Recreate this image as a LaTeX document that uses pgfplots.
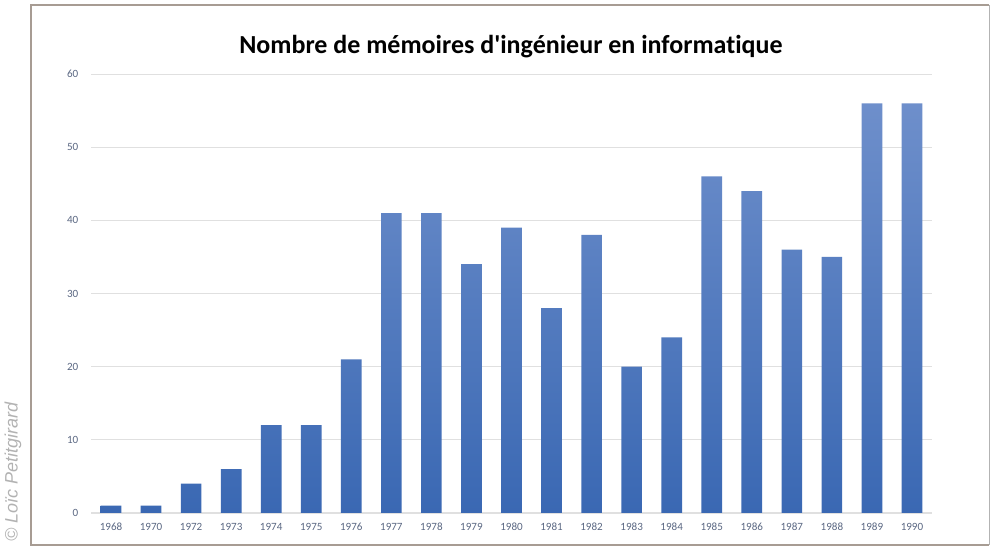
\documentclass[border=0pt]{standalone}
\usepackage{pgfplots}
\pgfplotsset{compat=1.18}
\usepackage{fontspec}
\setmainfont{Carlito}[Ligatures={TeXOff,NoCommon}]
\newfontfamily\credfont{Liberation Sans}
\definecolor{framec}{HTML}{A79C93}
\definecolor{tickc}{HTML}{5A6782}
\definecolor{gridc}{HTML}{E0E0E0}
\definecolor{bartop}{HTML}{6E8FCB}
\definecolor{barbot}{HTML}{3A68B3}
\begin{document}
\begin{tikzpicture}[x=0.75pt,y=0.75pt]
\useasboundingbox (0,0) rectangle (990,548);
% frame
\draw[framec,line width=2.2pt] (989,3) -- (31,3) -- (31,543) -- (989,543);
\draw[gridc!80!black,line width=0.6pt] (989,3) -- (989,543);
% credit
\node[rotate=90,text=gray!60,font=\credfont\itshape\fontsize{13.5}{15}\selectfont] at (13,76) {\textcopyright\ Loïc Petitgirard};
% title
\node[font=\bfseries\fontsize{19.5}{22}\selectfont] at (511,501) {Nombre de mémoires d'ingénieur en informatique};
\begin{axis}[
  at={(68.25pt,26.25pt)}, anchor=south west,
  scale only axis, width=630.75pt, height=329.25pt,
  xmin=-0.5, xmax=20.5, ymin=0, ymax=60,
  ytick={0,10,...,60},
  xtick={0,...,20},
  xticklabels={1968,1970,1972,1973,1974,1975,1976,1977,1978,1979,1980,1981,1982,1983,1984,1985,1986,1987,1988,1989,1990},
  axis line style={draw=none},
  major tick length=0pt,
  ymajorgrids, grid style={gridc, line width=0.6pt},
  tick label style={text=tickc, font=\fontsize{8.3}{10}\selectfont},
  /pgf/number format/assume math mode=true,
  yticklabel style={xshift=-6pt},
  xticklabel style={yshift=-4pt},
  clip=false,
]
\draw[gridc, line width=0.8pt] (axis cs:-0.5,0) -- (axis cs:20.5,0);
\addplot[ybar, bar width=15.5pt, draw=none, top color=bartop, bottom color=barbot] coordinates {
(0,1) (1,1) (2,4) (3,6) (4,12) (5,12) (6,21) (7,41) (8,41) (9,34) (10,39)
(11,28) (12,38) (13,20) (14,24) (15,46) (16,44) (17,36) (18,35) (19,56) (20,56)
};
\end{axis}
\end{tikzpicture}
\end{document}
